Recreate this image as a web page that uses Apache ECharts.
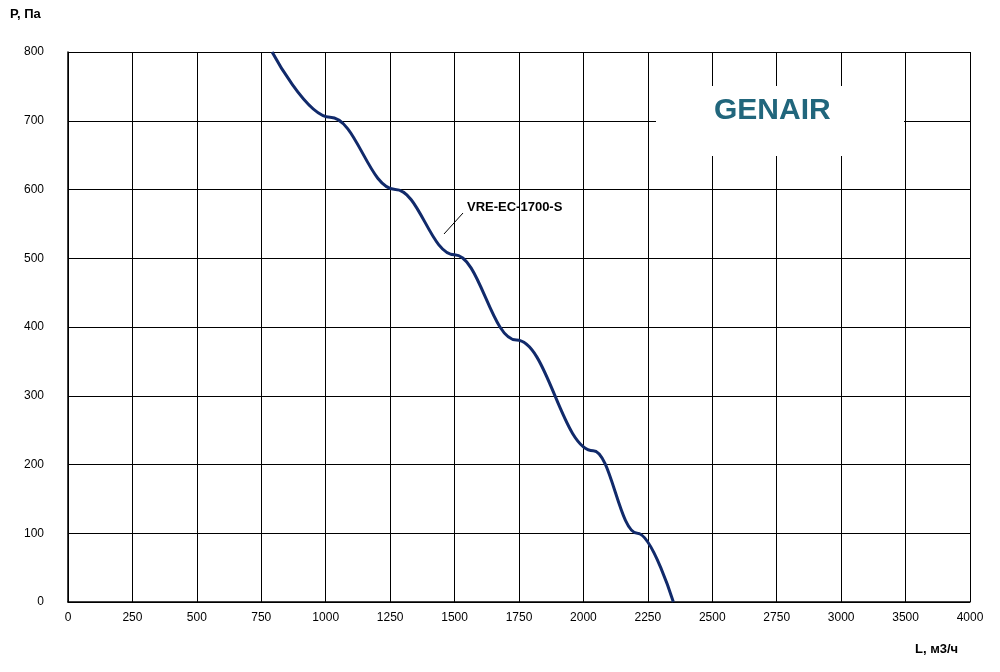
<!DOCTYPE html><html><head><meta charset="utf-8"><script src="https://cdn.jsdelivr.net/npm/echarts@6/dist/echarts.min.js"></script></head><body style="margin:0"><div id="c" style="width:1000px;height:672px"></div><script>
const flow=[792,1017,1270,1500,1740,2038,2209,2349];
const pressure=[800,705,600,505,381,220,100,0];
const seriesName='VRE-EC-1700-S';
const ch=echarts.init(document.getElementById('c'));
const f='Arial, Liberation Sans, sans-serif';
ch.setOption({animation:false,
grid:{left:68,right:30,top:52,bottom:70},
xAxis:{type:'value',min:0,max:3500,interval:250,axisLine:{lineStyle:{color:'#000',width:1.5}},axisTick:{show:false},
 splitLine:{lineStyle:{color:'#000',width:1}},axisLabel:{color:'#000',fontFamily:f,fontSize:12,margin:10,formatter:v=>v==3250?'3500':v==3500?'4000':String(v)}},
yAxis:{type:'value',min:0,max:800,interval:100,axisLine:{show:true,lineStyle:{color:'#000',width:1.5}},axisTick:{show:false},
 splitLine:{lineStyle:{color:'#000',width:1}},axisLabel:{color:'#000',fontFamily:f,fontSize:12,margin:24}},
graphic:[
 {type:'rect',shape:{x:656,y:86,width:248,height:70},style:{fill:'#fff'},z:10},
 {type:'text',left:714,top:96,style:{text:'GENAIR',fill:'#21667c',font:'bold 30px '+f},z:11},
 {type:'text',left:10,top:8,style:{text:'P, Па',fill:'#000',font:'bold 13px '+f}},
 {type:'text',left:915,top:643,style:{text:'L, м3/ч',fill:'#000',font:'bold 13px '+f}},
 {type:'text',left:467,top:201,style:{text:seriesName,fill:'#000',font:'bold 13px '+f},z:11},
 {type:'line',shape:{x1:463,y1:213,x2:444,y2:234},style:{stroke:'#000',lineWidth:1},z:11}
],
series:[{type:'line',name:seriesName,data:flow.map((x,i)=>[x,pressure[i]]),smooth:0.4,smoothMonotone:'x',symbol:'none',lineStyle:{color:'#112a6b',width:3},z:12}]
});
</script></body></html>
